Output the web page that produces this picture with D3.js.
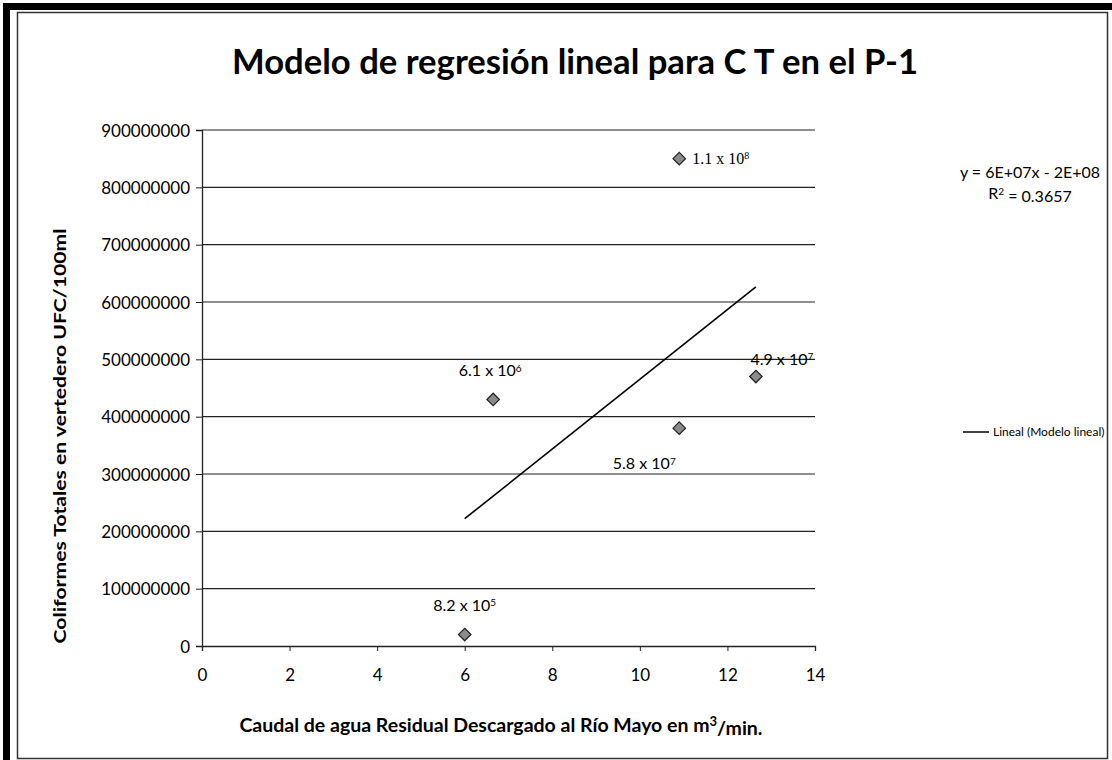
<!DOCTYPE html>
<html lang="es">
<head>
<meta charset="UTF-8">
<style>
  body { margin: 0; background: #fff; }
  svg { display: block; }
  .tick text { font-family: Lato, "Open Sans", sans-serif; font-size: 17px; fill: #000; }
</style>
</head>
<body>
<svg id="chart" width="1112" height="760"></svg>
<script src="https://d3js.org/d3.v7.min.js"></script>
<script>
// data
var caudal = [6, 6.65, 10.9, 12.65, 10.9];
var coliformes = [20000000, 430000000, 380000000, 470000000, 850000000];
var labelBase = ["8.2 x 10", "6.1 x 10", "5.8 x 10", "4.9 x 10", "1.1 x 10"];
var labelExp = ["5", "6", "7", "7", "8"];
var xTicks = [0, 2, 4, 6, 8, 10, 12, 14];
var yTicks = [0, 100000000, 200000000, 300000000, 400000000, 500000000, 600000000, 700000000, 800000000, 900000000];
var equationText = "y = 6E+07x - 2E+08";
var r2Text = "0.3657";

// where each data label sits relative to its point (px)
var labelDx = [0, -3, -35, 26, 13];
var labelDy = [-24, -23, 41, -12, 5];
var labelAnchor = ["middle", "middle", "middle", "middle", "start"];

var svg = d3.select("#chart");
var font = "Lato, 'Open Sans', sans-serif";

// frame of the scanned picture
svg.append("rect").attr("x", 3).attr("y", 3).attr("width", 7).attr("height", 757).attr("fill", "#000");
svg.append("rect").attr("x", 3).attr("y", 3).attr("width", 1109).attr("height", 7).attr("fill", "#000");
svg.append("rect").attr("x", 17.5).attr("y", 12.5).attr("width", 1090).attr("height", 746)
  .attr("fill", "none").attr("stroke", "#333").attr("stroke-width", 1.5);

var x = d3.scaleLinear().domain([0, 14]).range([202, 815]);
var y = d3.scaleLinear().domain([0, 900000000]).range([646, 130]);

// gridlines
svg.append("g")
  .selectAll("line")
  .data(yTicks.slice(1))
  .enter().append("line")
    .attr("x1", x(0)).attr("x2", x(14))
    .attr("y1", function(d) { return y(d); })
    .attr("y2", function(d) { return y(d); })
    .attr("stroke", "#222").attr("stroke-width", 1.1);

// axes
var yAxis = svg.append("g")
  .attr("transform", "translate(" + x(0) + ",0)")
  .call(d3.axisLeft(y).tickValues(yTicks).tickFormat(d3.format("d")).tickSize(6).tickPadding(6));
var xAxis = svg.append("g")
  .attr("transform", "translate(0," + y(0) + ")")
  .call(d3.axisBottom(x).tickValues(xTicks).tickFormat(d3.format("d")).tickSize(5).tickPadding(18));
[xAxis, yAxis].forEach(function(a) {
  a.select(".domain").attr("stroke", "#222").attr("stroke-width", 1.3);
  a.selectAll(".tick line").attr("stroke", "#222");
});
yAxis.selectAll(".tick text").attr("dy", "0.36em");

// trend line (least squares over the points)
var mx = d3.mean(caudal), my = d3.mean(coliformes);
var sxy = d3.sum(caudal, function(v, i) { return (v - mx) * (coliformes[i] - my); });
var sxx = d3.sum(caudal, function(v) { return (v - mx) * (v - mx); });
var slope = sxy / sxx, inter = my - slope * mx;
svg.append("path")
  .datum(d3.extent(caudal))
  .attr("d", d3.line()
    .x(function(d) { return x(d); })
    .y(function(d) { return y(inter + slope * d); }))
  .attr("stroke", "#000").attr("stroke-width", 1.6).attr("fill", "none");

// points
svg.append("g")
  .selectAll("path")
  .data(caudal)
  .enter().append("path")
    .attr("d", d3.symbol().type(d3.symbolDiamond2).size(100))
    .attr("transform", function(d, i) { return "translate(" + x(d) + "," + y(coliformes[i]) + ")"; })
    .attr("fill", "#8a8a8a").attr("stroke", "#222").attr("stroke-width", 1.2);

// data labels
var lab = svg.append("g")
  .selectAll("text")
  .data(caudal)
  .enter().append("text")
    .attr("x", function(d, i) { return x(d) + labelDx[i]; })
    .attr("y", function(d, i) { return y(coliformes[i]) + labelDy[i]; })
    .attr("text-anchor", function(d, i) { return labelAnchor[i]; })
    .style("font-family", function(d, i) { return i === 4 ? "'Liberation Serif', serif" : font; })
    .style("font-size", "16px");
lab.append("tspan").text(function(d, i) { return labelBase[i]; });
lab.append("tspan").attr("dy", "-0.45em").style("font-size", "10px").text(function(d, i) { return labelExp[i]; });

// title
svg.append("text")
  .attr("x", 575).attr("y", 74)
  .attr("text-anchor", "middle")
  .attr("textLength", 686).attr("lengthAdjust", "spacingAndGlyphs")
  .style("font-family", font).style("font-weight", "bold").style("font-size", "34px")
  .text("Modelo de regresión lineal para C T en el P-1");

// axis titles
svg.append("text")
  .attr("transform", "translate(66,436) rotate(-90)")
  .attr("text-anchor", "middle")
  .attr("textLength", 415).attr("lengthAdjust", "spacingAndGlyphs")
  .style("font-family", font).style("font-weight", "bold").style("font-size", "17px")
  .text("Coliformes Totales  en vertedero UFC/100ml");

var xt = svg.append("text")
  .attr("x", 501).attr("y", 732)
  .attr("text-anchor", "middle")
  .style("font-family", font).style("font-weight", "bold").style("font-size", "19.5px");
xt.append("tspan").text("Caudal de agua Residual Descargado al  Río Mayo en m");
xt.append("tspan").attr("dy", "-0.45em").style("font-size", "13px").text("3");
xt.append("tspan").attr("dy", "0.45em").text("/min.");

// equation and R²
svg.append("text")
  .attr("x", 1030).attr("y", 178)
  .attr("text-anchor", "middle")
  .style("font-family", font).style("font-size", "16px")
  .text(equationText);
var r2 = svg.append("text")
  .attr("x", 1030).attr("y", 199)
  .attr("text-anchor", "middle")
  .style("font-family", font).style("font-size", "16px");
r2.append("tspan").text("R");
r2.append("tspan").attr("dy", "-0.45em").style("font-size", "10px").text("2");
r2.append("tspan").attr("dy", "0.45em").text(" = " + r2Text);

// legend
svg.append("line")
  .attr("x1", 963).attr("x2", 989).attr("y1", 432).attr("y2", 432)
  .attr("stroke", "#000").attr("stroke-width", 1.5);
svg.append("text")
  .attr("x", 993).attr("y", 436)
  .style("font-family", font).style("font-size", "12px")
  .text("Lineal (Modelo lineal)");
</script>
</body>
</html>
